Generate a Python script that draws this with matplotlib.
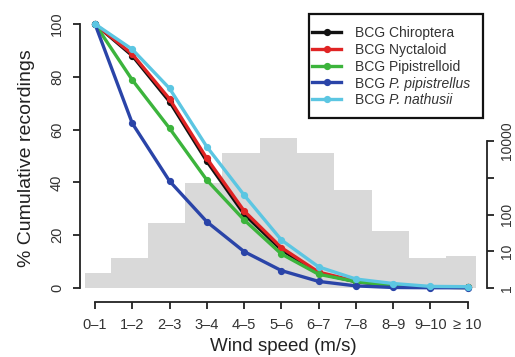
import matplotlib
matplotlib.use("Agg")
import matplotlib.pyplot as plt
from matplotlib.patches import Rectangle
from matplotlib.lines import Line2D
import numpy as np

plt.rcParams['font.family'] = ['Liberation Sans', 'DejaVu Sans']

categories = ["0\u20131", "1\u20132", "2\u20133", "3\u20134", "4\u20135", "5\u20136",
              "6\u20137", "7\u20138", "8\u20139", "9\u201310", "\u2265 10"]

chiroptera = [100, 88.0, 70.6, 48.0, 28.0, 14.5, 5.6, 2.4, 0.9, 0.3, 0.2]
nyctaloid = [100, 88.6, 71.6, 49.1, 29.2, 15.3, 6.0, 2.6, 1.0, 0.3, 0.2]
pipistrelloid = [100, 78.8, 60.5, 40.9, 25.8, 12.9, 5.2, 2.4, 0.9, 0.3, 0.2]
pipistrellus = [100, 62.4, 40.5, 25.1, 13.8, 6.6, 2.5, 0.8, 0.2, 0.1, 0.1]
nathusii = [100, 90.4, 75.6, 53.5, 35.2, 18.2, 8.0, 3.4, 1.7, 0.6, 0.5]

hist_counts = [2.6, 6.7, 60, 707, 4800, 11800, 4600, 465, 36, 6.7, 7.4]
right_ticks = [1, 10, 100, 1000, 10000]
right_labels = ["1", "10", "100", "", "10000"]

# (prefix, italic part, values, colour)
series = [
    ("BCG Chiroptera", "", chiroptera, "#111111"),
    ("BCG Nyctaloid", "", nyctaloid, "#e02424"),
    ("BCG Pipistrelloid", "", pipistrelloid, "#3cb43c"),
    ("BCG ", "P. pipistrellus", pipistrellus, "#2a44a8"),
    ("BCG ", "P. nathusii", nathusii, "#5cc6e2"),
]

W, H = 515, 357
fig = plt.figure(figsize=(W / 100, H / 100), dpi=100)
L, R, T, B = 80, 487, 15, 302
ax = fig.add_axes([L / W, 1 - B / H, (R - L) / W, (B - T) / H])
ax2 = ax.twinx()

x = np.arange(len(categories))
px_per_x = 37.27
ax.set_xlim((L - 95) / px_per_x, (R - 95) / px_per_x)
ax.set_ylim((288 - B) / 2.64, (288 - T) / 2.64)

# histogram (log scale, right axis)
ax2.set_yscale('log')
ax2.set_ylim(10 ** (-(B - 288) / 36.75), 10 ** ((288 - T) / 36.75))
edges = [-0.27] + [k + 0.42 for k in range(len(categories) - 1)] + [10.22]
for i, c in enumerate(hist_counts):
    ax2.add_patch(Rectangle((edges[i], 1), edges[i + 1] - edges[i], c - 1,
                            facecolor='#d9d9d9', edgecolor='none', zorder=1))

ax.set_zorder(ax2.get_zorder() + 1)
ax.patch.set_visible(False)

for pre, it, vals, col in series:
    ax.plot(x, vals, color=col, lw=2.4, marker='o', ms=4.2, mfc=col, mec=col, zorder=3)

axc = '#222222'
for a in (ax, ax2):
    for s in a.spines.values():
        s.set_visible(False)
        s.set_color(axc)
        s.set_linewidth(1.3)

ax.spines['left'].set_visible(True)
ax.spines['left'].set_bounds(0, 100)
ax.spines['bottom'].set_visible(True)
ax.spines['bottom'].set_bounds(0, 10)
ax2.spines['right'].set_visible(True)
ax2.spines['right'].set_bounds(1, 10000)

ax.set_xticks(x)
ax.set_xticklabels(categories)
ax.set_yticks([0, 20, 40, 60, 80, 100])
ax.set_yticklabels(["0", "20", "40", "60", "80", "100"], rotation=90, va='center')
ax.tick_params(axis='both', length=5, width=1.3, color=axc, labelsize=10.5,
               labelcolor='#333333', pad=6.5)
ax2.set_yticks(right_ticks)
ax2.set_yticklabels(right_labels, rotation=90, va='center')
ax2.yaxis.set_minor_locator(matplotlib.ticker.NullLocator())
ax2.tick_params(axis='y', length=5, width=1.3, color=axc, labelsize=10,
                labelcolor='#333333', pad=4.5)

ax.set_xlabel("Wind speed (m/s)", fontsize=13.5, color='#222222', labelpad=4)
ax.set_ylabel("% Cumulative recordings", fontsize=14, color='#222222', labelpad=11)

# legend (drawn by hand so the species names can be italic)
lx0, ly0, lx1, ly1 = 309, 14, 483, 118
fig.patches.append(Rectangle((lx0 / W, 1 - ly1 / H), (lx1 - lx0) / W, (ly1 - ly0) / H,
                             transform=fig.transFigure, facecolor='white',
                             edgecolor='#111111', lw=1.6, zorder=5))
renderer = fig.canvas.get_renderer()
for i, (pre, it, vals, col) in enumerate(series):
    yp = 1 - (32 + i * 16.75) / H
    fig.add_artist(Line2D([312 / W, 341 / W], [yp, yp], transform=fig.transFigure,
                          color=col, lw=2.4, zorder=6))
    fig.add_artist(Line2D([326.5 / W], [yp], transform=fig.transFigure, color=col,
                          marker='o', ms=4.2, lw=0, zorder=7))
    t1 = fig.text(355 / W, yp, pre, fontsize=10, color='#333333', va='center_baseline',
                  ha='left', zorder=7)
    if it:
        bb = t1.get_window_extent(renderer)
        fig.text(bb.x1 / W, yp, it, fontsize=10, color='#333333', style='italic',
                 va='center_baseline', ha='left', zorder=7)

fig.savefig("out.png", dpi=100)
